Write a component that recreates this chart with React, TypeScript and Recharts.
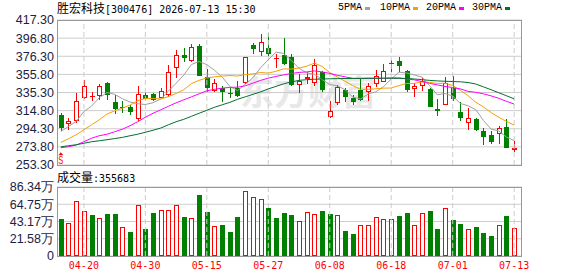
import React from "react";
import {
  ComposedChart,
  Bar,
  Line,
  XAxis,
  YAxis,
  CartesianGrid,
  ReferenceLine,
  ReferenceDot,
} from "recharts";

const dates = [
  "04-15", "04-16", "04-17", "04-20", "04-21", "04-22", "04-23", "04-24", "04-27", "04-28",
  "04-29", "04-30", "05-06", "05-07", "05-08", "05-11", "05-12", "05-13", "05-14", "05-15",
  "05-18", "05-19", "05-20", "05-21", "05-22", "05-25", "05-26", "05-27", "05-28", "05-29",
  "06-01", "06-02", "06-03", "06-04", "06-05", "06-08", "06-09", "06-10", "06-11", "06-12",
  "06-15", "06-16", "06-17", "06-18", "06-22", "06-23", "06-24", "06-25", "06-26", "06-29",
  "06-30", "07-01", "07-02", "07-03", "07-06", "07-07", "07-08", "07-09", "07-10", "07-13",
];

const opens = [
  310.1, 299.6, 303.3, 328.9, 331.0, 331.5, 345.9, 324.4, 319.1, 319.1,
  305.6, 332.6, 333.4, 329.6, 332.6, 362.8, 377.8, 371.0, 388.0, 353.3,
  337.2, 340.2, 334.8, 340.2, 345.9, 389.1, 381.5, 385.4, 372.9, 377.8,
  375.9, 343.9, 350.4, 345.9, 359.0, 307.5, 323.3, 338.3, 329.6, 338.3,
  336.4, 344.7, 347.7, 367.3, 371.0, 359.7, 339.1, 343.1, 339.4, 316.5,
  321.4, 340.9, 313.1, 300.7, 305.6, 292.0, 287.5, 288.3, 296.2, 269.8,
];
const highs = [
  312.0, 306.3, 334.6, 349.6, 335.7, 345.1, 347.7, 332.6, 325.9, 321.4,
  343.1, 335.7, 334.9, 340.2, 366.5, 383.4, 385.4, 389.9, 389.9, 362.0,
  350.7, 342.8, 340.0, 348.5, 375.9, 391.0, 401.2, 402.3, 378.6, 396.6,
  379.0, 356.0, 358.3, 373.3, 359.8, 325.9, 343.9, 340.2, 332.6, 350.7,
  345.9, 360.9, 367.3, 372.2, 375.9, 360.5, 345.9, 352.2, 340.9, 328.1,
  353.3, 354.1, 324.4, 317.6, 307.0, 295.7, 291.2, 297.7, 305.6, 280.7,
];
const lows = [
  291.2, 293.1, 300.7, 328.1, 325.9, 327.0, 327.0, 310.9, 312.0, 309.3,
  303.3, 327.0, 325.9, 328.9, 330.7, 352.2, 370.2, 370.2, 354.0, 335.7,
  336.4, 325.1, 329.5, 330.1, 345.1, 378.6, 377.0, 377.0, 363.5, 366.5,
  342.8, 334.6, 345.1, 343.1, 336.4, 306.3, 321.4, 325.1, 320.6, 325.9,
  325.9, 342.0, 347.0, 358.9, 358.9, 336.4, 330.7, 337.2, 319.4, 308.2,
  321.4, 325.9, 303.3, 293.1, 291.2, 276.2, 277.0, 277.0, 272.0, 267.5,
];
const closes = [
  295.7, 303.3, 325.9, 342.8, 331.8, 342.8, 332.6, 316.5, 317.6, 313.1,
  333.4, 328.1, 327.0, 337.2, 358.3, 377.8, 374.7, 386.8, 354.4, 340.2,
  345.9, 336.4, 333.4, 331.5, 375.2, 384.2, 392.1, 379.0, 374.7, 367.3,
  344.0, 348.5, 353.0, 366.5, 338.3, 314.6, 342.0, 330.7, 325.1, 327.0,
  343.1, 354.4, 360.1, 368.4, 365.7, 338.3, 342.8, 348.5, 319.4, 314.6,
  345.9, 328.1, 306.3, 307.0, 292.4, 284.5, 279.3, 295.7, 272.0, 272.8,
];

const ma5 = [
  291.2, 296.9, 302.5, 313.8, 319.9, 329.3, 335.2, 333.3, 328.3, 324.5,
  322.6, 321.7, 323.8, 327.8, 336.8, 345.7, 355.0, 367.0, 370.4, 366.8,
  360.4, 352.7, 342.1, 337.5, 344.5, 352.1, 363.3, 372.4, 381.0, 379.5,
  371.4, 362.7, 357.5, 355.9, 350.1, 344.2, 342.9, 338.4, 330.1, 327.9,
  333.6, 336.1, 341.9, 350.6, 358.3, 357.4, 355.1, 352.7, 342.9, 332.7,
  334.2, 331.3, 322.9, 320.4, 315.9, 303.7, 293.9, 291.8, 284.8, 280.9,
];
const ma10 = [
  278.8, 283.0, 287.5, 293.1, 298.8, 304.4, 310.9, 314.6, 317.6, 321.0,
  326.0, 328.5, 328.6, 328.0, 330.7, 334.2, 338.4, 345.4, 349.1, 351.8,
  353.0, 353.9, 354.5, 353.9, 355.6, 356.3, 358.0, 357.2, 359.3, 362.0,
  361.8, 363.0, 365.0, 368.5, 364.8, 357.8, 352.8, 348.0, 343.0, 339.0,
  338.9, 339.5, 340.2, 340.4, 343.1, 345.5, 345.6, 347.3, 346.8, 345.5,
  345.8, 343.2, 337.8, 331.7, 324.3, 319.0, 312.6, 307.3, 302.6, 298.4,
];
const ma20 = [
  272.8, 274.0, 275.9, 279.6, 283.6, 286.4, 288.1, 290.9, 293.7, 297.7,
  302.2, 307.3, 311.8, 315.7, 319.7, 323.6, 327.0, 330.4, 333.8, 337.2,
  338.9, 340.2, 341.1, 341.3, 342.8, 345.9, 349.0, 351.5, 353.5, 355.2,
  356.9, 358.0, 358.6, 359.7, 358.6, 356.9, 354.7, 353.0, 351.3, 351.3,
  351.5, 351.5, 351.5, 351.8, 351.8, 350.7, 349.6, 347.7, 345.6, 343.9,
  342.2, 340.9, 339.4, 336.6, 335.5, 333.8, 331.5, 328.7, 325.3, 322.2,
];
const ma30 = [
  273.9, 275.1, 276.2, 277.9, 279.6, 280.7, 281.9, 283.2, 284.5, 286.4,
  288.1, 290.3, 292.6, 295.1, 298.8, 302.2, 305.0, 308.4, 311.8, 315.2,
  318.6, 321.4, 324.2, 327.6, 330.4, 333.2, 336.0, 339.4, 342.2, 345.1,
  347.3, 349.0, 349.8, 350.3, 350.6, 350.8, 351.0, 351.1, 351.2, 351.2,
  351.3, 351.3, 351.4, 351.4, 351.3, 351.2, 350.6, 349.8, 349.0, 348.4,
  348.0, 347.7, 347.4, 346.6, 344.9, 341.7, 338.4, 335.0, 331.6, 328.1,
];

// volume, in 万
const volumes = [
  46.2, 40.8, 68.4, 55.8, 51.2, 47.0, 52.4, 52.4, 35.8, 29.9,
  63.4, 33.6, 53.7, 57.1, 57.1, 63.4, 48.7, 47.0, 76.3, 55.0,
  37.0, 38.6, 29.9, 48.7, 81.3, 73.4, 71.3, 60.0, 47.4, 53.7,
  51.2, 43.7, 54.6, 52.1, 56.2, 52.4, 50.8, 31.1, 27.4, 38.3,
  38.3, 48.3, 46.2, 46.2, 49.9, 53.7, 38.3, 53.3, 56.2, 33.6,
  59.6, 44.9, 39.9, 33.6, 36.1, 28.6, 24.8, 38.3, 49.9, 35.57,
];

const priceTicks = [253.3, 273.8, 294.3, 314.8, 335.3, 355.8, 376.3, 396.8, 417.3];
const volTicks = [0, 21.58, 43.17, 64.75, 86.34];
const dateTicks = ["04-20", "04-30", "05-15", "05-27", "06-08", "06-18", "07-01", "07-13"];

const RED = "#ff0000";
const GREEN = "#008000";
const GRID = "#cccccc";
const MONO = '"DejaVu Sans Mono", monospace';
const CJK = '"Noto Sans CJK SC", sans-serif';

const priceRows = dates.map((d, i) => ({
  date: d,
  range: [lows[i], highs[i]],
  open: opens[i],
  high: highs[i],
  low: lows[i],
  close: closes[i],
  ma5: ma5[i],
  ma10: ma10[i],
  ma20: ma20[i],
  ma30: ma30[i],
}));

const volRows = dates.map((d, i) => ({
  date: d,
  vol: volumes[i],
  up: i === 0 ? closes[i] >= opens[i] : closes[i] >= closes[i - 1],
}));

function Candle(props: any) {
  const { x, y, width, height, payload } = props;
  if (x == null || y == null || !payload) return null;
  const { open, close, high, low } = payload;
  const top = Math.min(y, y + height);
  const h = Math.abs(height);
  const span = high - low || 1;
  const py = (v: number) => top + ((high - v) / span) * h;
  const c = Math.round(x + width / 2);
  const yTop = Math.round(py(Math.max(open, close)));
  const yBot = Math.round(py(Math.min(open, close)));
  const yHigh = Math.round(py(high));
  const yLow = Math.round(py(low));
  if (close >= open) {
    const bh = yBot - yTop - 1;
    return (
      <g>
        <line x1={c + 0.5} x2={c + 0.5} y1={yHigh} y2={yTop} stroke={RED} />
        <line x1={c + 0.5} x2={c + 0.5} y1={yBot} y2={yLow} stroke={RED} />
        {bh > 0 ? (
          <rect x={c - 1.5} y={yTop + 0.5} width={4} height={bh} fill="#fff" stroke={RED} />
        ) : (
          <line x1={c - 2} x2={c + 3} y1={yTop + 0.5} y2={yTop + 0.5} stroke={RED} />
        )}
      </g>
    );
  }
  return (
    <g>
      <line x1={c + 0.5} x2={c + 0.5} y1={yHigh} y2={yLow} stroke={GREEN} />
      <rect x={c - 2} y={yTop} width={5} height={Math.max(yBot - yTop, 1)} fill={GREEN} />
    </g>
  );
}

function VolBar(props: any) {
  const { x, y, width, height, payload } = props;
  if (x == null || y == null || !payload) return null;
  const c = Math.round(x + width / 2);
  const top = Math.round(y);
  const bot = Math.round(y + height);
  if (payload.up) {
    return (
      <rect x={c - 1.5} y={top + 0.5} width={4} height={Math.max(bot - top - 1, 0)} fill="#fff" stroke={RED} />
    );
  }
  return <rect x={c - 2} y={top} width={5} height={bot - top} fill={GREEN} />;
}

function SignalMark(props: any) {
  const { cx, cy } = props;
  return (
    <g>
      <path d={`M${cx - 2.5},${cy - 2.5} L${cx},${cy - 5.5} L${cx + 2.5},${cy - 2.5} Z`} fill={RED} />
      <text
        x={cx - 2.5}
        y={cy + 6.3}
        fontSize={11}
        fill={RED}
        fontFamily="Liberation Sans"
        textLength={5}
        lengthAdjust="spacingAndGlyphs"
      >
        S
      </text>
    </g>
  );
}

const legendItems = [
  { label: "5PMA", color: "#a0a0a0", x: 338 },
  { label: "10PMA", color: "#f5a000", x: 380 },
  { label: "20PMA", color: "#ff00ff", x: 426 },
  { label: "30PMA", color: "#007030", x: 472 },
];

const yTick = { fill: "#1c2340", fontSize: 12.5, fontFamily: "Liberation Sans" };

export default function App() {
  return (
    <div
      style={{
        position: "fixed",
        left: 0,
        top: 0,
        width: 578,
        height: 276,
        background: "#fff",
        overflow: "hidden",
      }}
    >
      {/* watermark */}
      <div
        style={{
          position: "absolute",
          left: 240,
          top: 73,
          fontFamily: CJK,
          fontWeight: 700,
          fontSize: 34,
          lineHeight: "36px",
          color: "#e8e8e8",
          whiteSpace: "nowrap",
        }}
      >
        东方财富
      </div>

      <div style={{ position: "absolute", left: 0, top: 170 }}>
        <ComposedChart
          width={578}
          height={106}
          data={volRows}
          margin={{ top: 17, right: 56, bottom: 0, left: 0 }}
        >
          <CartesianGrid vertical={false} stroke={GRID} />
          <XAxis
            dataKey="date"
            height={20}
            ticks={dateTicks}
            interval={0}
            padding={{ left: 0, right: 4 }}
            axisLine={false}
            tickLine={false}
            tickSize={0}
            tickMargin={6}
            tick={{ fill: RED, fontSize: 10, fontFamily: "DejaVu Sans Mono" }}
          />
          <YAxis
            width={57}
            domain={[0, 86.34]}
            ticks={volTicks}
            interval={0}
            allowDataOverflow
            axisLine={false}
            tickLine={false}
            tickSize={0}
            tickMargin={3}
            tick={yTick}
            tickFormatter={(v: number) => (v === 0 ? "0" : v.toFixed(2) + "万")}
          />
          {dateTicks.map((d) => (
            <ReferenceLine key={d} x={d} stroke={GRID} strokeDasharray="5 3" />
          ))}
          <Bar dataKey="vol" shape={VolBar} isAnimationActive={false} />
        </ComposedChart>
      </div>

      <div style={{ position: "absolute", left: 0, top: 0 }}>
        <ComposedChart
          width={578}
          height={180}
          data={priceRows}
          margin={{ top: 20, right: 56, bottom: 15, left: 0 }}
        >
          <CartesianGrid vertical={false} stroke={GRID} />
          <XAxis dataKey="date" hide padding={{ left: 0, right: 4 }} />
          <YAxis
            width={57}
            domain={[253.3, 417.3]}
            ticks={priceTicks}
            interval={0}
            allowDataOverflow
            axisLine={false}
            tickLine={false}
            tickSize={0}
            tickMargin={3}
            tick={yTick}
            tickFormatter={(v: number) => v.toFixed(2)}
          />
          {dateTicks.map((d) => (
            <ReferenceLine key={d} x={d} stroke={GRID} strokeDasharray="5 3" />
          ))}
          <Bar dataKey="range" shape={Candle} isAnimationActive={false} />
          <Line type="linear" dataKey="ma5" stroke="#a0a0a0" strokeWidth={1} dot={false} isAnimationActive={false} />
          <Line type="linear" dataKey="ma10" stroke="#f5a000" strokeWidth={1} dot={false} isAnimationActive={false} />
          <Line type="linear" dataKey="ma20" stroke="#ff00ff" strokeWidth={1} dot={false} isAnimationActive={false} />
          <Line type="linear" dataKey="ma30" stroke="#007030" strokeWidth={1} dot={false} isAnimationActive={false} />
          <ReferenceDot x={dates[0]} y={261.5} r={0} shape={SignalMark} />
        </ComposedChart>
      </div>

      {/* panel borders */}
      <div
        style={{
          position: "absolute",
          left: 57,
          top: 20,
          width: 465,
          height: 146,
          border: "1px solid #999",
          boxSizing: "border-box",
          pointerEvents: "none",
        }}
      />
      <div
        style={{
          position: "absolute",
          left: 57,
          top: 187,
          width: 465,
          height: 70,
          border: "1px solid #999",
          boxSizing: "border-box",
          pointerEvents: "none",
        }}
      />

      {/* title */}
      <div
        style={{
          position: "absolute",
          left: 57,
          top: 1,
          fontSize: 12,
          lineHeight: "14px",
          whiteSpace: "nowrap",
          color: "#000",
        }}
      >
        <span style={{ fontFamily: CJK }}>胜宏科技</span>
        <span style={{ fontFamily: MONO, fontSize: 10 }}>[300476] 2026-07-13 15:30</span>
      </div>

      {/* legend */}
      {legendItems.map((it) => (
        <div
          key={it.label}
          style={{
            position: "absolute",
            left: it.x,
            top: 2,
            fontFamily: '"Liberation Mono", monospace',
            fontSize: 10,
            lineHeight: "12px",
            color: "#000",
            whiteSpace: "nowrap",
            display: "flex",
            alignItems: "center",
          }}
        >
          <span>{it.label}</span>
          <span
            style={{
              display: "inline-block",
              width: 5,
              height: 3,
              background: it.color,
              marginLeft: 3,
            }}
          />
        </div>
      ))}

      {/* volume label */}
      <div
        style={{
          position: "absolute",
          left: 57,
          top: 170,
          fontSize: 12,
          lineHeight: "14px",
          whiteSpace: "nowrap",
          color: "#000",
        }}
      >
        <span style={{ fontFamily: CJK }}>成交量</span>
        <span style={{ fontFamily: MONO, fontSize: 10 }}>:355683</span>
      </div>
    </div>
  );
}
